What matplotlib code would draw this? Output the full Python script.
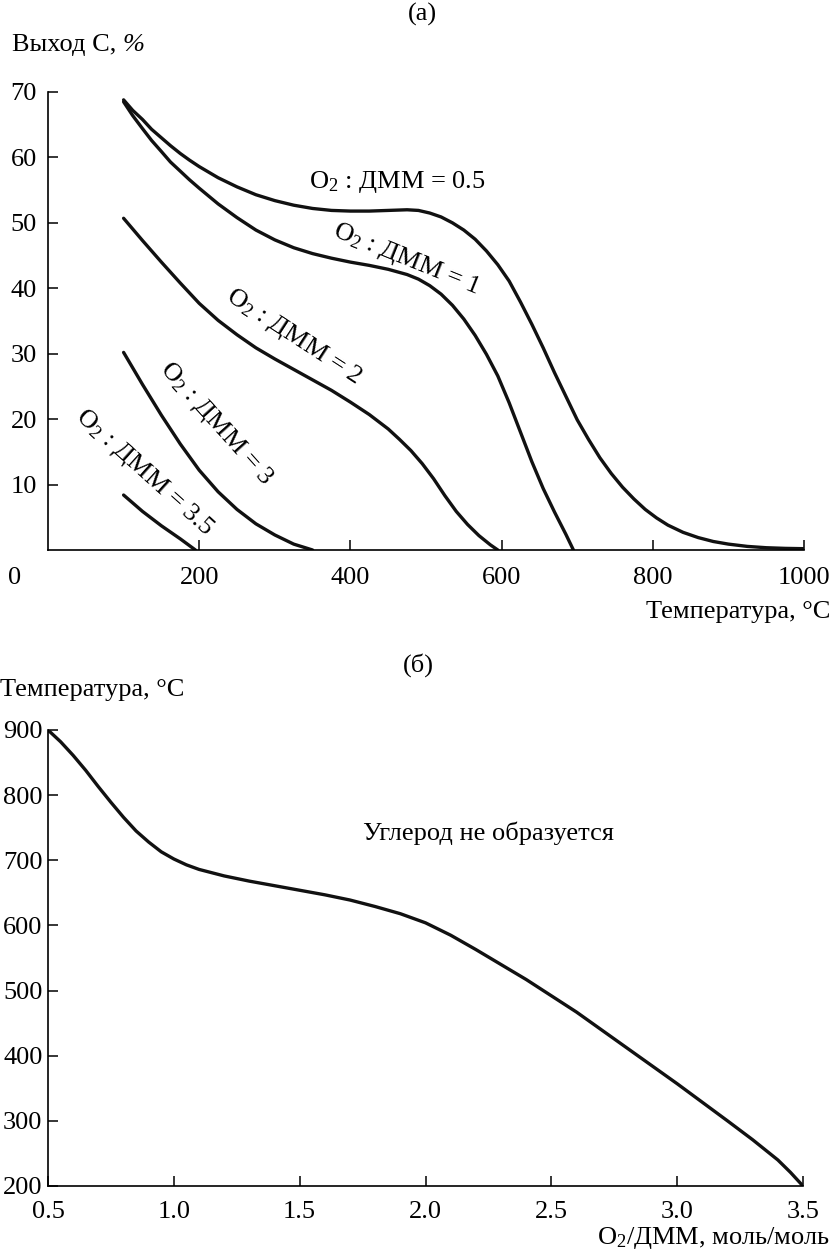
import matplotlib
matplotlib.use("Agg")
import matplotlib.pyplot as plt

plt.rcParams["font.family"] = "serif"
plt.rcParams["font.serif"] = ["Liberation Serif", "DejaVu Serif"]
plt.rcParams["mathtext.fontset"] = "custom"
plt.rcParams["mathtext.rm"] = "Liberation Serif"
plt.rcParams["mathtext.it"] = "Liberation Serif:italic"

# panel (a): carbon yield vs temperature for several O2:DMM ratios
t_05 = [100, 112, 125, 137, 150, 162, 175, 187, 200, 225, 250, 275, 300, 325, 350, 375,
        400, 425, 450, 475, 490, 505, 520, 535, 550, 565, 580, 595, 610, 625, 640, 655,
        670, 685, 700, 715, 730, 745, 760, 775, 790, 805, 820, 840, 860, 880, 900, 925,
        950, 975, 1000]
y_05 = [68.8, 67.2, 65.8, 64.3, 63.0, 61.8, 60.6, 59.6, 58.6, 56.9, 55.5, 54.3, 53.4,
        52.7, 52.2, 51.9, 51.8, 51.8, 51.9, 52.0, 51.9, 51.5, 50.9, 50.0, 48.9, 47.5,
        45.7, 43.6, 41.1, 37.9, 34.5, 30.9, 27.1, 23.5, 19.9, 16.9, 14.1, 11.7, 9.6,
        7.8, 6.2, 4.9, 3.8, 2.7, 1.9, 1.3, 0.9, 0.55, 0.35, 0.25, 0.2]

t_1 = [100, 112, 125, 137, 150, 162, 175, 187, 200, 225, 250, 275, 300, 325, 350, 375,
       400, 425, 450, 475, 490, 505, 520, 535, 550, 565, 580, 595, 610, 625, 640, 655,
       670, 685, 695]
y_1 = [68.5, 66.4, 64.4, 62.6, 60.9, 59.3, 57.9, 56.6, 55.3, 52.9, 50.8, 48.9, 47.4,
       46.2, 45.3, 44.6, 44.0, 43.5, 42.9, 42.1, 41.4, 40.4, 39.1, 37.4, 35.3, 32.8,
       29.9, 26.6, 22.5, 18.0, 13.5, 9.4, 5.8, 2.4, 0.0]

t_2 = [100, 125, 150, 175, 200, 225, 250, 275, 300, 325, 350, 375, 400, 425, 450, 465,
       480, 495, 510, 525, 540, 555, 570, 585, 595]
y_2 = [50.7, 47.3, 44.0, 40.8, 37.7, 35.1, 32.9, 30.9, 29.2, 27.6, 26.0, 24.4, 22.6,
       20.7, 18.5, 16.9, 15.2, 13.2, 10.9, 8.3, 5.9, 3.9, 2.2, 0.8, 0.0]

t_3 = [100, 125, 150, 175, 200, 225, 250, 275, 300, 325, 350]
y_3 = [30.2, 25.3, 20.6, 16.2, 12.2, 8.9, 6.2, 4.0, 2.3, 0.9, 0.0]

t_35 = [100, 125, 150, 175, 195]
y_35 = [8.4, 5.9, 3.7, 1.7, 0.0]

# panel (б): boundary temperature vs O2/DMM ratio
ratio = [0.5, 0.55, 0.6, 0.65, 0.7, 0.75, 0.8, 0.85, 0.9, 0.95, 1.0, 1.05, 1.1, 1.2,
         1.3, 1.4, 1.5, 1.6, 1.7, 1.8, 1.9, 2.0, 2.1, 2.2, 2.4, 2.6, 2.8, 3.0, 3.2, 3.3,
         3.4, 3.45, 3.5]
t_bound = [900, 882, 861, 838, 813, 789, 766, 745, 728, 713, 702, 693, 686, 676, 668,
           661, 654, 647, 639, 629, 618, 604, 585, 563, 517, 467, 412, 357, 300, 271,
           240, 221, 200]

fig = plt.figure(figsize=(8.31, 12.52), dpi=100)
fs = 19

def style(ax):
    ax.spines["top"].set_visible(False)
    ax.spines["right"].set_visible(False)
    ax.spines["left"].set_linewidth(1.2)
    ax.spines["bottom"].set_linewidth(1.2)
    ax.tick_params(direction="in", length=7, width=1.1, labelsize=fs, pad=8)

# ---- (a)
ax1 = fig.add_axes([48 / 831, 1 - 550 / 1252, 756 / 831, 458 / 1252])
style(ax1)
lw = 2.4
for t, y in [(t_05, y_05), (t_1, y_1), (t_2, y_2), (t_3, y_3), (t_35, y_35)]:
    ax1.plot(t, y, color="#111111", lw=lw, solid_joinstyle="round", solid_capstyle="round")
ax1.set_xlim(0, 1000)
ax1.set_ylim(0, 70)
ax1.set_xticks([200, 400, 600, 800, 1000])
ax1.set_yticks([10, 20, 30, 40, 50, 60, 70])
ax1.tick_params(axis="x", pad=12)
ax1.text(-0.044, -0.061, "0", transform=ax1.transAxes, ha="center", va="center", fontsize=fs)

lab = r"O$_\mathregular{2}$ : ДММ = "
ax1.text(462, 56.3, lab + "0.5", ha="center", va="center", fontsize=fs)
ax1.text(474, 44.4, lab + "1", ha="center", va="center", fontsize=fs,
         rotation=-22, rotation_mode="anchor")
ax1.text(325, 32.6, lab + "2", ha="center", va="center", fontsize=fs,
         rotation=-33, rotation_mode="anchor")
ax1.text(222, 19.3, lab + "3", ha="center", va="center", fontsize=fs,
         rotation=-48, rotation_mode="anchor")
ax1.text(128, 11.9, lab + "3.5", ha="center", va="center", fontsize=fs,
         rotation=-42, rotation_mode="anchor")

fig.text(422 / 831, 1 - 14 / 1252, "(а)", ha="center", va="center", fontsize=fs)
t_ylab = fig.text(12 / 831, 1 - 45 / 1252, "Выход С, ", ha="left", va="center", fontsize=fs)
fig.canvas.draw()
bb = t_ylab.get_window_extent(fig.canvas.get_renderer())
fig.text(bb.x1 / fig.bbox.width, 1 - 45 / 1252, "%", ha="left", va="center",
         fontsize=fs, style="italic")
fig.text(830 / 831, 1 - 612 / 1252, "Температура, °С", ha="right", va="center", fontsize=fs)

# ---- (б)
ax2 = fig.add_axes([48 / 831, 1 - 1186 / 1252, 755 / 831, 456 / 1252])
style(ax2)
ax2.plot(ratio, t_bound, color="#111111", lw=lw, solid_joinstyle="round", solid_capstyle="round")
ax2.set_xlim(0.5, 3.5)
ax2.set_ylim(200, 900)
ax2.set_xticks([0.5, 1.0, 1.5, 2.0, 2.5, 3.0, 3.5])
ax2.set_xticklabels(["0.5", "1.0", "1.5", "2.0", "2.5", "3.0", "3.5"])
ax2.set_yticks([200, 300, 400, 500, 600, 700, 800, 900])
ax2.tick_params(axis="x", pad=11)
ax2.tick_params(axis="y", pad=4)
ax2.text(2.25, 742, "Углерод не образуется", ha="center", va="center", fontsize=fs)

fig.text(418 / 831, 1 - 665 / 1252, "(б)", ha="center", va="center", fontsize=fs)
fig.text(0, 1 - 690 / 1252, "Температура, °С", ha="left", va="center", fontsize=fs)
fig.text(830 / 831, 1 - 1238 / 1252, r"O$_\mathregular{2}$/ДММ, моль/моль",
         ha="right", va="center", fontsize=fs)

fig.savefig("out.png", dpi=100)
